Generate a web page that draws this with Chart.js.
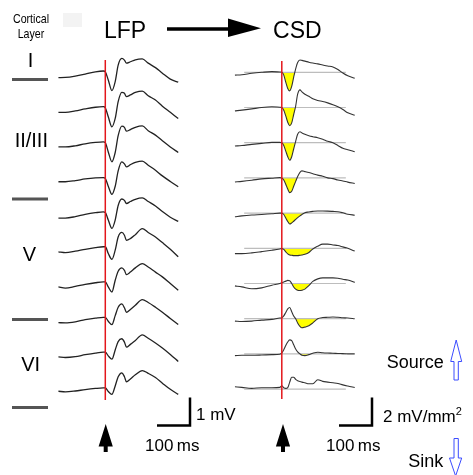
<!DOCTYPE html>
<html>
<head>
<meta charset="utf-8">
<script src="https://cdn.jsdelivr.net/npm/chart.js@4.4.0/dist/chart.umd.min.js"></script>
<style>
  html, body { margin: 0; padding: 0; background: #fff; }
  #wrap { position: relative; width: 473px; height: 475px; overflow: hidden; font-family: "Liberation Sans", Arial, sans-serif; color: #000; }
  canvas, svg { position: absolute; left: 0; top: 0; }
  .lbl { position: absolute; white-space: nowrap; line-height: 1; }
  .c { transform: translateX(-50%); }
  .narrow { transform: translateX(-50%) scaleX(0.82); }
</style>
</head>
<body>
<div id="wrap">
  <canvas id="lfp" width="473" height="475"></canvas>
  <canvas id="csd" width="473" height="475"></canvas>
  <svg width="473" height="475">
    <rect x="63" y="13" width="19" height="14" fill="#f3f3f3"/>
    <!-- layer borders -->
    <rect x="12" y="78" width="36" height="3" fill="#555"/>
    <rect x="12" y="197.5" width="36" height="3" fill="#555"/>
    <rect x="12" y="318" width="36" height="3" fill="#555"/>
    <rect x="12" y="406" width="36" height="3" fill="#555"/>
    <!-- LFP -> CSD arrow -->
    <line x1="167" y1="29" x2="230" y2="29" stroke="#000" stroke-width="3.5"/>
    <polygon points="228,18.5 261,28.3 228,37" fill="#000"/>
    <!-- stimulus arrows -->
    <polygon points="105.7,424 112.8,446.5 107.7,446.5 107.7,452 103.7,452 103.7,446.5 98.6,446.5" fill="#000"/>
    <polygon points="283,424 290.1,446.5 285,446.5 285,452 281,452 281,446.5 275.9,446.5" fill="#000"/>
    <!-- source / sink arrows -->
    <polygon points="456.2,340 461.7,361.5 458.3,361.5 458.3,380 454,380 454,361.5 450.7,361.5" fill="#fff" stroke="#3b4cff" stroke-width="1"/>
    <polygon points="454,438.5 458.3,438.5 458.3,458 461.7,458 455.6,476 449.5,458 454,458" fill="#fff" stroke="#3b4cff" stroke-width="1"/>
  </svg>
  <div class="lbl narrow" style="left:30.5px; top:11.5px; font-size:13px;">Cortical</div>
  <div class="lbl narrow" style="left:30.5px; top:26.5px; font-size:13px;">Layer</div>
  <div class="lbl c" style="left:30.5px; top:49.5px; font-size:20px;">I</div>
  <div class="lbl c" style="left:31.3px; top:130px; font-size:20px;">II/III</div>
  <div class="lbl c" style="left:29.5px; top:244px; font-size:20px;">V</div>
  <div class="lbl c" style="left:30.7px; top:353.5px; font-size:20px;">VI</div>
  <div class="lbl c" style="left:125px; top:18.5px; font-size:23px;">LFP</div>
  <div class="lbl c" style="left:297.3px; top:19px; font-size:23px;">CSD</div>
  <div class="lbl" style="left:196px; top:405.6px; font-size:17px;">1 mV</div>
  <div class="lbl" style="left:145px; top:437.3px; font-size:17px;">100&#8201;ms</div>
  <div class="lbl" style="left:383px; top:405.6px; font-size:17px;">2 mV/mm<sup style="font-size:11px; vertical-align:7px;">2</sup></div>
  <div class="lbl" style="left:326px; top:437.3px; font-size:17px;">100&#8201;ms</div>
  <div class="lbl" style="left:386.7px; top:352.5px; font-size:18px;">Source</div>
  <div class="lbl" style="left:408.3px; top:451.5px; font-size:18px;">Sink</div>
</div>
<script>
// time of each sample, ms after stimulus
const lfpTimes = [-142, -121, -91, -61, -30, -6, 0, 9, 20, 30, 39, 50, 58, 64, 76, 91, 112, 130, 152, 173, 197, 221];

// LFP, mV, one row per electrode (top = layer I)
const lfpTraces = [
  [-0.24, -0.23, -0.18, -0.11, -0.03, 0, -0.03, -0.32, -0.70, -0.38, 0.21, 0.45, 0.39, 0.28, 0.33, 0.40, 0.43, 0.28, 0.12, -0.08, -0.29, -0.40],
  [-0.22, -0.22, -0.17, -0.10, -0.04, -0.02, -0.06, -0.38, -0.74, -0.44, 0.16, 0.49, 0.46, 0.34, 0.40, 0.49, 0.54, 0.37, 0.22, 0.00, -0.22, -0.44],
  [-0.20, -0.20, -0.16, -0.09, -0.04, -0.02, -0.05, -0.38, -0.73, -0.40, 0.20, 0.54, 0.50, 0.36, 0.42, 0.50, 0.55, 0.38, 0.22, 0.02, -0.20, -0.40],
  [-0.19, -0.19, -0.15, -0.09, -0.05, -0.04, -0.07, -0.35, -0.64, -0.35, 0.20, 0.52, 0.45, 0.34, 0.42, 0.50, 0.55, 0.40, 0.22, 0.02, -0.18, -0.37],
  [-0.23, -0.23, -0.18, -0.10, -0.04, -0.01, -0.03, -0.30, -0.60, -0.30, 0.22, 0.45, 0.40, 0.29, 0.36, 0.44, 0.49, 0.36, 0.20, 0.00, -0.20, -0.35],
  [-0.18, -0.21, -0.16, -0.09, -0.03, 0.00, 0.00, -0.24, -0.45, -0.12, 0.35, 0.51, 0.41, 0.23, 0.29, 0.43, 0.65, 0.51, 0.35, 0.15, -0.09, -0.36],
  [-0.18, -0.22, -0.16, -0.09, -0.03, 0.00, 0.00, -0.18, -0.36, 0.06, 0.38, 0.50, 0.41, 0.26, 0.35, 0.50, 0.65, 0.53, 0.35, 0.18, -0.06, -0.30],
  [-0.20, -0.21, -0.17, -0.09, -0.04, -0.01, -0.01, -0.15, -0.27, 0.05, 0.35, 0.47, 0.33, 0.17, 0.27, 0.42, 0.62, 0.52, 0.35, 0.17, -0.05, -0.27],
  [-0.17, -0.19, -0.16, -0.09, -0.03, 0.00, 0.00, -0.13, -0.25, 0.08, 0.38, 0.48, 0.36, 0.18, 0.28, 0.42, 0.62, 0.50, 0.33, 0.15, -0.08, -0.33],
  [-0.14, -0.16, -0.13, -0.08, -0.04, -0.02, -0.02, -0.15, -0.25, 0.05, 0.38, 0.52, 0.38, 0.20, 0.30, 0.45, 0.60, 0.50, 0.35, 0.15, -0.07, -0.25]
];

const csdTimes = [-142, -121, -91, -61, -30, -6, 0, 6, 12, 18, 24, 30, 36, 42, 48, 55, 61, 70, 82, 94, 109, 124, 139, 155, 170, 185, 200, 221];

// CSD, mV/mm2, negative = sink
const csdTraces = [
  [-0.20, -0.17, -0.07, 0.00, 0.05, 0.02, 0, -0.20, -0.70, -1.15, -1.33, -1.00, -0.35, 0.25, 0.70, 0.88, 0.85, 0.80, 0.72, 0.66, 0.60, 0.52, 0.45, 0.38, 0.20, -0.05, -0.25, -0.43],
  [-0.24, -0.19, -0.10, 0.00, 0.05, 0.02, 0, -0.20, -0.60, -1.05, -1.30, -1.10, -0.50, 0.10, 0.95, 1.26, 1.12, 0.95, 0.80, 0.62, 0.50, 0.43, 0.33, 0.20, 0.05, -0.14, -0.38, -0.55],
  [-0.24, -0.20, -0.12, -0.05, 0.02, 0.02, 0, -0.20, -0.60, -1.00, -1.25, -1.00, -0.45, 0.10, 0.60, 0.78, 0.70, 0.60, 0.50, 0.43, 0.36, 0.25, 0.10, 0.00, -0.20, -0.40, -0.50, -0.65],
  [-0.29, -0.25, -0.17, -0.07, -0.02, 0.02, 0, -0.15, -0.45, -0.80, -1.05, -0.95, -0.60, -0.25, 0.10, 0.40, 0.50, 0.45, 0.38, 0.30, 0.20, 0.12, 0.00, -0.05, -0.15, -0.22, -0.30, -0.40],
  [-0.26, -0.20, -0.14, -0.10, -0.05, 0.00, 0, -0.10, -0.35, -0.60, -0.78, -0.70, -0.58, -0.45, -0.32, -0.20, -0.10, 0.03, 0.08, 0.12, 0.15, 0.15, 0.14, 0.12, 0.10, 0.02, -0.08, -0.15],
  [-0.38, -0.38, -0.33, -0.24, -0.14, -0.05, -0.02, -0.08, -0.25, -0.40, -0.48, -0.50, -0.52, -0.52, -0.52, -0.50, -0.48, -0.43, -0.30, -0.05, 0.15, 0.30, 0.30, 0.24, 0.20, 0.10, 0.00, -0.20],
  [-0.17, -0.24, -0.38, -0.31, -0.12, 0.00, 0.05, 0.10, 0.17, 0.22, 0.20, 0.00, -0.25, -0.40, -0.48, -0.50, -0.48, -0.40, -0.15, 0.15, 0.33, 0.40, 0.40, 0.40, 0.38, 0.30, 0.25, 0.08],
  [-0.17, -0.20, -0.17, -0.10, -0.05, 0.05, 0.07, 0.20, 0.45, 0.70, 0.80, 0.50, 0.20, 0.00, -0.30, -0.55, -0.65, -0.60, -0.50, -0.30, 0.00, 0.08, 0.10, 0.12, 0.10, 0.07, 0.05, 0.00],
  [-0.12, -0.10, -0.10, -0.08, -0.05, -0.02, 0.07, 0.30, 0.60, 0.85, 1.00, 0.95, 0.65, 0.35, 0.15, 0.00, -0.10, -0.12, -0.05, 0.05, 0.12, 0.08, 0.06, 0.05, 0.03, 0.02, 0.00, 0.00],
  [0.17, 0.12, 0.05, 0.10, 0.10, 0.12, 0.24, 0.10, 0.05, 0.10, 0.50, 0.85, 0.85, 0.70, 0.60, 0.55, 0.50, 0.45, 0.38, 0.38, 0.67, 0.55, 0.50, 0.45, 0.40, 0.30, 0.22, 0.12]
];

// sink windows (ms) that are shaded yellow, null = no shaded sink
const sinkStart = [0, 0, 0, 0, 0, 0, 30, 42, 55, null];
const sinkEnd = [42, 48, 48, 55, 70, 109, 94, 109, 94, null];

// extent of the grey zero line under each CSD trace (ms)
const csdZeroFrom = -114;
const csdZeroTo = 194;

// page geometry in pixels
const layout = {
  lfp: { zeroX: 105.3, firstY: 71, pxPerMs: 0.33, pxPerUnit: 28, gapPx: 35.15,
         markTop: 60, markBottom: 400, barX: 190, barY: 425.5, barMs: 100, barUnits: 1 },
  csd: { zeroX: 281.8, firstY: 72.3, pxPerMs: 0.33, pxPerUnit: 14, gapPx: 35.2,
         markTop: 61, markBottom: 399, barX: 372, barY: 425.5, barMs: 100, barUnits: 2 }
};

const W = 473, H = 475;

const overlay = {
  id: 'overlay',
  afterDatasetsDraw(chart, args, opts) {
    const g = opts.geo;
    const ctx = chart.ctx;
    const x = chart.scales.x, y = chart.scales.y;
    ctx.save();
    // stimulus marker
    const sx = x.getPixelForValue(0);
    ctx.strokeStyle = '#e3161b';
    ctx.lineWidth = 1.5;
    ctx.beginPath();
    ctx.moveTo(sx, g.markTop);
    ctx.lineTo(sx, g.markBottom);
    ctx.stroke();
    // scale bar
    const w = x.getPixelForValue(g.barMs) - x.getPixelForValue(0);
    const h = y.getPixelForValue(0) - y.getPixelForValue(g.barUnits);
    ctx.strokeStyle = '#000';
    ctx.lineWidth = 2.5;
    ctx.beginPath();
    ctx.moveTo(g.barX - w, g.barY);
    ctx.lineTo(g.barX, g.barY);
    ctx.lineTo(g.barX, g.barY - h);
    ctx.stroke();
    ctx.restore();
  }
};

function makeChart(id, times, traces, g, extra) {
  const step = g.gapPx / g.pxPerUnit;
  const datasets = [];
  traces.forEach((tr, i) => {
    datasets.push({
      data: times.map((t, j) => ({ x: t, y: tr[j] - i * step })),
      borderColor: id === 'lfp' ? '#222' : '#333',
      borderWidth: id === 'lfp' ? 1.3 : 1.1,
      cubicInterpolationMode: 'monotone',
      fill: false,
      order: 0
    });
  });
  if (extra) extra(datasets, step);
  new Chart(document.getElementById(id), {
    type: 'line',
    data: { datasets },
    options: {
      responsive: false,
      animation: false,
      events: [],
      layout: { padding: 0 },
      elements: { point: { radius: 0 } },
      plugins: { legend: { display: false }, tooltip: { enabled: false }, overlay: { geo: g } },
      scales: {
        x: { type: 'linear', display: false, min: -g.zeroX / g.pxPerMs, max: (W - g.zeroX) / g.pxPerMs },
        y: { type: 'linear', display: false, min: (g.firstY - H) / g.pxPerUnit, max: g.firstY / g.pxPerUnit }
      }
    },
    plugins: [overlay]
  });
}

makeChart('lfp', lfpTimes, lfpTraces, layout.lfp);

makeChart('csd', csdTimes, csdTraces, layout.csd, (datasets, step) => {
  csdTraces.forEach((tr, i) => {
    const base = -i * step;
    datasets.push({
      data: [{ x: csdZeroFrom, y: base }, { x: csdZeroTo, y: base }],
      borderColor: '#bdbdbd',
      borderWidth: 1.2,
      fill: false,
      order: 1
    });
    if (sinkStart[i] === null) return;
    datasets.push({
      data: csdTimes.map((t, j) => ({ x: t, y: (t >= sinkStart[i] && t <= sinkEnd[i]) ? tr[j] + base : null })),
      borderWidth: 0,
      borderColor: 'rgba(0,0,0,0)',
      cubicInterpolationMode: 'monotone',
      spanGaps: false,
      fill: { target: { value: base }, above: 'rgba(0,0,0,0)', below: '#ffff00' },
      order: 2
    });
  });
});
</script>
</body>
</html>
